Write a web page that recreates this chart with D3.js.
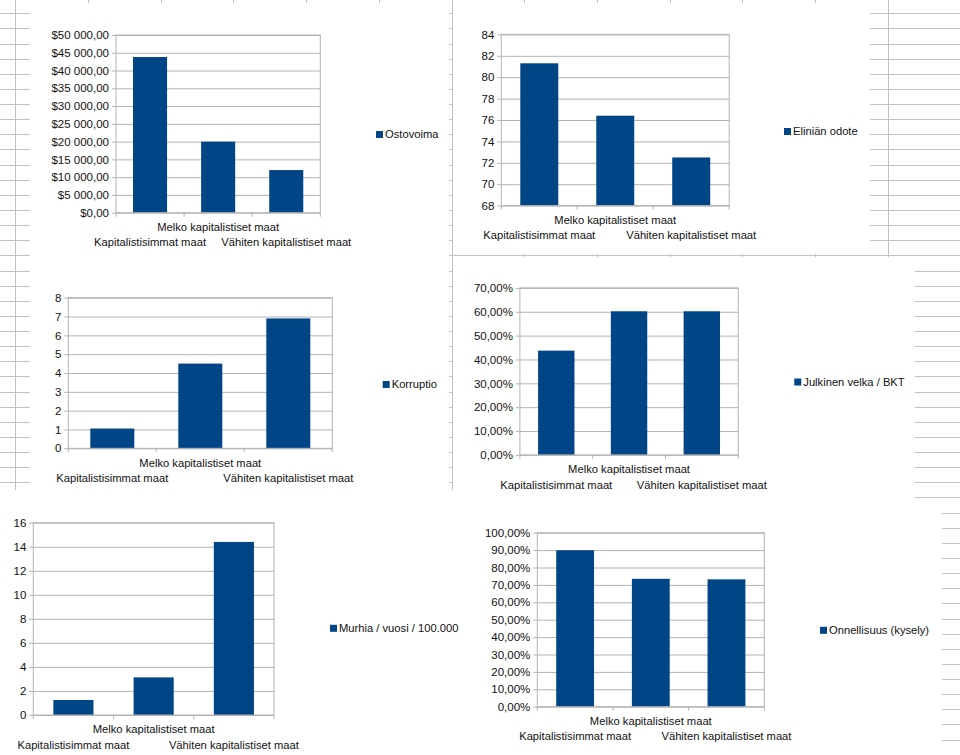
<!DOCTYPE html>
<html>
<head>
<meta charset="utf-8">
<script src="https://cdn.jsdelivr.net/npm/d3@7"></script>
<style>
  body { margin: 0; background: #fff; }
  svg text {
    font-family: "Liberation Sans", Arial, sans-serif;
    font-size: 11.2px;
    fill: #111;
  }
  svg .tick text { font-size: 11.5px; }
  .sheet line { stroke: #c2c2c2; stroke-width: 1; }
  .grid line { stroke: #b3b3b3; }
</style>
</head>
<body>
<svg id="page" width="960" height="755"></svg>
<script>
// data
var categories = ['Kapitalistisimmat maat', 'Melko kapitalistiset maat', 'Vähiten kapitalistiset maat'];

var ostovoima = [43800, 20000, 12000];
var elinianOdote = [81.3, 76.4, 72.5];
var korruptio = [1.05, 4.5, 6.9];
var velkaBkt = [0.437, 0.602, 0.602];
var murhia = [1.25, 3.13, 14.4];
var onnellisuus = [0.899, 0.735, 0.732];

var ostovoimaTicks = [0, 5000, 10000, 15000, 20000, 25000, 30000, 35000, 40000, 45000, 50000];
var elinianTicks = [68, 70, 72, 74, 76, 78, 80, 82, 84];
var korruptioTicks = [0, 1, 2, 3, 4, 5, 6, 7, 8];
var velkaTicks = [0, 0.1, 0.2, 0.3, 0.4, 0.5, 0.6, 0.7];
var murhiaTicks = [0, 2, 4, 6, 8, 10, 12, 14, 16];
var onnellisuusTicks = [0, 0.1, 0.2, 0.3, 0.4, 0.5, 0.6, 0.7, 0.8, 0.9, 1];

// finnish style numbers: "$50 000,00", "70,00%"
var fi = d3.formatLocale({ decimal: ',', thousands: ' ', grouping: [3], currency: ['$', ''] });

var svg = d3.select('#page');

// spreadsheet grid behind the chart objects
var sheet = svg.append('g').attr('class', 'sheet');
sheet.selectAll('line.row')
  .data(d3.range(0, 50))
  .enter().append('line')
  .attr('x1', 0).attr('x2', 960)
  .attr('y1', function (k) { return Math.round(13.3 + k * 15.13) + 0.5; })
  .attr('y2', function (k) { return Math.round(13.3 + k * 15.13) + 0.5; });
sheet.selectAll('line.col')
  .data(d3.range(0, 14))
  .enter().append('line')
  .attr('y1', 0).attr('y2', 755)
  .attr('x1', function (k) { return Math.round(15.3 + k * 72.7) + 0.5; })
  .attr('x2', function (k) { return Math.round(15.3 + k * 72.7) + 0.5; });

// white chart objects [x0, y0, x1, y1]
var objects = [
  [30, 3, 449, 255],
  [453, 3, 870, 254],
  [30, 255, 449, 490],
  [453, 257, 915, 503],
  [0, 490, 456, 755],
  [456, 503, 942, 755]
];
svg.selectAll('rect.obj')
  .data(objects)
  .enter().append('rect')
  .attr('x', function (d) { return d[0]; })
  .attr('y', function (d) { return d[1]; })
  .attr('width', function (d) { return d[2] - d[0]; })
  .attr('height', function (d) { return d[3] - d[1]; })
  .attr('fill', '#fff');

var panels = [
  { values: ostovoima, name: 'Ostovoima', ticks: ostovoimaTicks, domain: [0, 50000], fmt: fi.format('$,.2f'),
    left: 116, right: 320.3, top: 35, bottom: 212.7, lx: 376, ly: 134.5 },
  { values: elinianOdote, name: 'Eliniän odote', ticks: elinianTicks, domain: [68, 84], fmt: fi.format('d'),
    left: 501.3, right: 729.2, top: 34.4, bottom: 205.6, lx: 784, ly: 131.5 },
  { values: korruptio, name: 'Korruptio', ticks: korruptioTicks, domain: [0, 8], fmt: fi.format('d'),
    left: 68.3, right: 332.3, top: 297.7, bottom: 448.3, lx: 382.7, ly: 384.5 },
  { values: velkaBkt, name: 'Julkinen velka / BKT', ticks: velkaTicks, domain: [0, 0.7], fmt: fi.format('.2%'),
    left: 519.9, right: 738.2, top: 287.9, bottom: 454.9, lx: 794.3, ly: 382 },
  { values: murhia, name: 'Murhia / vuosi / 100.000', ticks: murhiaTicks, domain: [0, 16], fmt: fi.format('d'),
    left: 33.3, right: 274, top: 522.7, bottom: 715, lx: 330, ly: 628.3 },
  { values: onnellisuus, name: 'Onnellisuus (kysely)', ticks: onnellisuusTicks, domain: [0, 1], fmt: fi.format('.2%'),
    left: 537.3, right: 764.3, top: 532.7, bottom: 706.7, lx: 820, ly: 630.3 }
];

panels.forEach(drawPanel);

function drawPanel(p) {
  var g = svg.append('g');
  var w = p.right - p.left;
  var h = p.bottom - p.top;

  var x = d3.scaleBand().domain(categories).range([p.left, p.right])
    .paddingInner(0.5).paddingOuter(0.25);
  var xEdge = d3.scaleBand().domain(categories).range([p.left, p.right]);
  var y = d3.scaleLinear().domain(p.domain).range([p.bottom, p.top]);

  // horizontal gridlines
  g.append('g')
    .attr('class', 'grid')
    .attr('transform', 'translate(' + p.left + ',0)')
    .call(d3.axisLeft(y).tickValues(p.ticks).tickSize(-w).tickFormat(''))
    .call(function (s) { s.select('.domain').remove(); });

  // bars
  g.selectAll('rect.bar')
    .data(p.values)
    .enter().append('rect')
    .attr('class', 'bar')
    .attr('x', function (d, i) { return x(categories[i]); })
    .attr('width', x.bandwidth())
    .attr('y', function (d) { return y(d); })
    .attr('height', function (d) { return y(p.domain[0]) - y(d); })
    .attr('fill', '#004586');

  // plot frame
  g.append('rect')
    .attr('x', p.left).attr('y', p.top)
    .attr('width', w).attr('height', h)
    .attr('fill', 'none')
    .attr('stroke', '#b3b3b3');

  // y axis labels
  g.append('g')
    .attr('transform', 'translate(' + p.left + ',0)')
    .attr('color', '#b3b3b3')
    .call(d3.axisLeft(y).tickValues(p.ticks).tickFormat(p.fmt).tickSize(4).tickPadding(3))
    .call(function (s) { s.select('.domain').remove(); });

  // x ticks on the category borders
  var edges = categories.map(function (c) { return xEdge(c); }).concat([p.right]);
  g.selectAll('line.xtick')
    .data(edges)
    .enter().append('line')
    .attr('x1', function (d) { return d; }).attr('x2', function (d) { return d; })
    .attr('y1', p.bottom).attr('y2', p.bottom + 4)
    .attr('stroke', '#b3b3b3');

  // staggered category labels
  g.selectAll('text.cat')
    .data(categories)
    .enter().append('text')
    .attr('x', function (c) { return x(c) + x.bandwidth() / 2; })
    .attr('y', function (c, i) { return p.bottom + (i % 2 === 1 ? 14.5 : 29.7); })
    .attr('dy', '0.35em')
    .attr('text-anchor', 'middle')
    .text(function (c) { return c; });

  // legend
  g.append('rect')
    .attr('x', p.lx).attr('y', p.ly - 3.5)
    .attr('width', 7).attr('height', 7)
    .attr('fill', '#004586');
  g.append('text')
    .attr('x', p.lx + 9).attr('y', p.ly)
    .attr('dy', '0.35em')
    .text(p.name);
}
</script>
</body>
</html>
